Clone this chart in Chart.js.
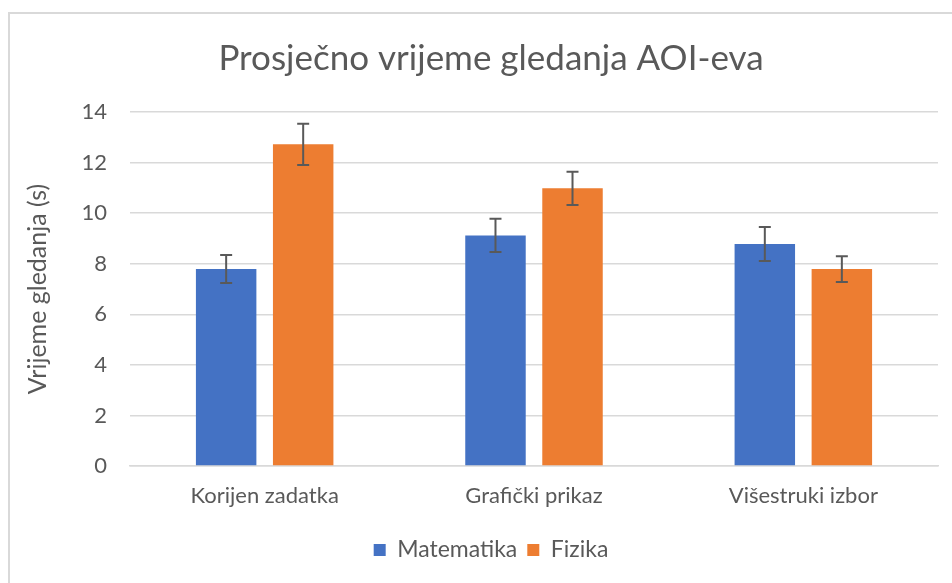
<!DOCTYPE html>
<html>
<head>
<meta charset="utf-8">
<script src="https://cdn.jsdelivr.net/npm/chart.js@4.4.0/dist/chart.umd.min.js"></script>
<style>
  html, body { margin: 0; padding: 0; background: #ffffff; }
  #wrap { position: relative; width: 952px; height: 583px; overflow: hidden; }
  #frame { position: absolute; left: 8px; top: 12px; width: 1000px; height: 1000px;
           border-left: 2px solid #d9d9d9; border-top: 2px solid #d9d9d9; box-sizing: border-box; }
  canvas { position: absolute; left: 0; top: 0; }
</style>
</head>
<body>
<div id="wrap">
  <div id="frame"></div>
  <canvas id="c" width="952" height="583"></canvas>
</div>
<script>
const categories = ["Korijen zadatka", "Grafički prikaz", "Višestruki izbor"];
const seriesNames = ["Matematika", "Fizika"];
const matematika = [7.79, 9.12, 8.78];
const fizika = [12.72, 10.98, 7.79];
const matematikaErr = [0.55, 0.66, 0.67];
const fizikaErr = [0.82, 0.66, 0.51];
const yTicks = [0, 2, 4, 6, 8, 10, 12, 14];
const titleText = "Prosječno vrijeme gledanja AOI-eva";
const yTitle = "Vrijeme gledanja (s)";

const FONT = "Lato, 'Open Sans', sans-serif";
const TXT = "#595959";

const errorBars = {
  id: "errorBars",
  afterDatasetsDraw(chart) {
    const ctx = chart.ctx;
    const yScale = chart.scales.y;
    chart.data.datasets.forEach((ds, di) => {
      const meta = chart.getDatasetMeta(di);
      meta.data.forEach((bar, i) => {
        const v = ds.data[i];
        const e = ds.errors[i];
        const yTop = yScale.getPixelForValue(v + e);
        const yBot = yScale.getPixelForValue(v - e);
        const x = bar.x;
        ctx.save();
        ctx.strokeStyle = "#595959";
        ctx.lineWidth = 2;
        ctx.beginPath();
        ctx.moveTo(x, yTop); ctx.lineTo(x, yBot);
        ctx.moveTo(x - 6, yTop); ctx.lineTo(x + 6, yTop);
        ctx.moveTo(x - 6, yBot); ctx.lineTo(x + 6, yBot);
        ctx.stroke();
        ctx.restore();
      });
    });
  }
};

new Chart(document.getElementById("c"), {
  type: "bar",
  data: {
    labels: categories,
    datasets: [
      { label: seriesNames[0], data: matematika, errors: matematikaErr,
        backgroundColor: "#4472C4", borderWidth: 0,
        categoryPercentage: 0.572, barPercentage: 0.785 },
      { label: seriesNames[1], data: fizika, errors: fizikaErr,
        backgroundColor: "#ED7D31", borderWidth: 0,
        categoryPercentage: 0.572, barPercentage: 0.785 }
    ]
  },
  options: {
    responsive: false,
    animation: false,
    layout: { padding: { left: 44, right: 14, top: 0, bottom: 11.5 } },
    plugins: {
      title: {
        display: true, text: titleText, color: TXT,
        font: { family: FONT, size: 35, weight: "normal" },
        padding: { top: 37.5, bottom: 32.5 }
      },
      legend: {
        display: true, position: "bottom",
        labels: { color: TXT, boxWidth: 12, boxHeight: 12, padding: 10,
                  font: { family: FONT, size: 23 } }
      },
      tooltip: { enabled: false }
    },
    scales: {
      x: {
        grid: { display: false, drawTicks: false },
        border: { display: true, color: "#d9d9d9", width: 1.5 },
        ticks: { color: TXT, padding: 17, font: { family: FONT, size: 22 } },
        afterFit(scale) { scale.height = 62.5; }
      },
      y: {
        min: 0, max: 14,
        afterBuildTicks(scale) { scale.ticks = yTicks.map(v => ({ value: v })); },
        grid: { color: "#d9d9d9", lineWidth: 1.5, drawTicks: false },
        border: { display: false },
        ticks: { color: TXT, padding: 23, font: { family: FONT, size: 22 } },
        title: { display: true, text: yTitle, color: TXT,
                 font: { family: FONT, size: 25 }, padding: { top: -21, bottom: 0 } },
        afterFit(scale) { scale.width = 86; }
      }
    }
  },
  plugins: [errorBars]
});
</script>
</body>
</html>
